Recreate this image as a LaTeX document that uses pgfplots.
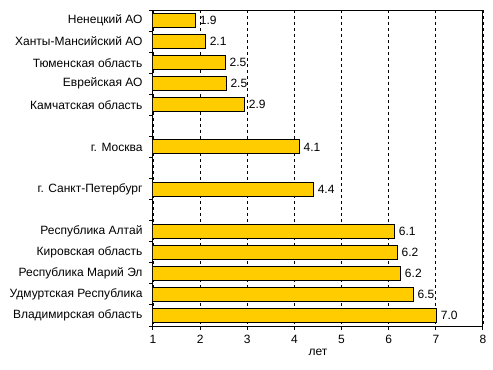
\documentclass[border=0pt]{standalone}
\usepackage{pgfplots}
\pgfplotsset{compat=1.18}
\usepackage{fontspec}
\setmainfont{Liberation Sans}
\definecolor{baryellow}{HTML}{FFCC00}
\begin{document}
\begin{tikzpicture}
\useasboundingbox (-153bp,-44bp) rectangle (340bp,326bp);
\begin{axis}[
  at={(0,0)}, anchor=south west,
  scale only axis,
  width=330bp, height=316bp,
  xmin=1, xmax=8,
  ymin=-0.5, ymax=14.5,
  y dir=reverse,
  xtick={1,2,3,4,5,6,7,8},
  xtick pos=left, ytick pos=left,
  tick align=outside,
  major tick length=4bp,
  xmajorgrids,
  grid style={black, dashed, line width=0.8bp},
  axis line style={line width=1bp},
  every tick/.style={black, line width=1bp},
  /pgf/number format/assume math mode=true,
  ytick={0,1,2,3,4,6,8,10,11,12,13,14},
  yticklabels={Ненецкий АО,Ханты-Мансийский АО,Тюменская область,Еврейская АО,Камчатская область,г. Москва,г. Санкт-Петербург,Республика Алтай,Кировская область,Республика Марий Эл,Удмуртская Республика,Владимирская область},
  ytick style={draw=none},
  extra y ticks={-0.5,0.5,1.5,2.5,3.5,4.5,5.5,6.5,7.5,8.5,9.5,10.5,11.5,12.5,13.5,14.5},
  extra y tick labels={},
  extra y tick style={ytick style={draw=black}, grid=none, major tick length=4bp},
  ticklabel style={font=\fontsize{12bp}{14bp}\selectfont},
  yticklabel style={xshift=-3bp},
  xticklabel style={yshift=-2bp},
  xlabel={лет},
  xlabel style={font=\fontsize{12bp}{14bp}\selectfont, yshift=2bp},
  point meta=explicit symbolic,
  nodes near coords={\pgfplotspointmeta},
  nodes near coords style={anchor=west, font=\fontsize{12bp}{14bp}\selectfont, xshift=2bp, inner sep=2bp},
]
\addplot[xbar, bar width=14bp, fill=baryellow, draw=black, line width=1bp]
  table[x=x, y=y, meta=lab] {
x y lab
1.90 0 1.9
2.11 1 2.1
2.53 2 2.5
2.55 3 2.5
2.94 4 2.9
4.10 6 4.1
4.40 8 4.4
6.12 10 6.1
6.18 11 6.2
6.25 12 6.2
6.52 13 6.5
7.01 14 7.0
};
\end{axis}
\end{tikzpicture}
\end{document}
